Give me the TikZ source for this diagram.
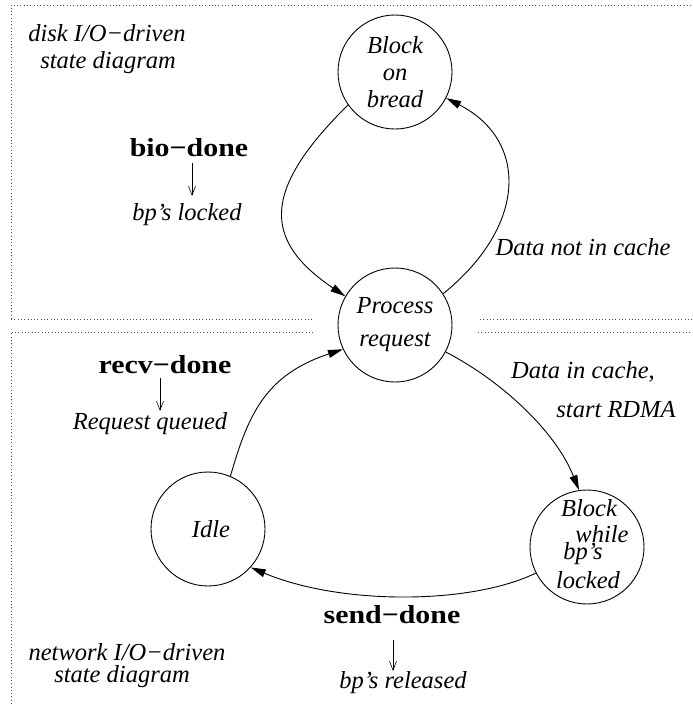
\documentclass[tikz,border=0pt]{standalone}
\usepackage{fontspec}
\setmainfont{Liberation Serif}
\newfontfamily\evfont{Liberation Serif Bold}[FakeStretch=1.15]
\usetikzlibrary{arrows.meta}
\begin{document}
\begin{tikzpicture}[x=1pt,y=-1pt,
  lbl/.style={font=\fontsize{24.5}{27}\selectfont\itshape, inner sep=0pt},
  ev/.style={font=\evfont\fontsize{26}{26}\selectfont, inner sep=0pt},
  state/.style={circle, draw, line width=0.9pt, minimum size=114pt, inner sep=0pt, align=center},
  edge/.style={line width=0.9pt, -{Triangle[length=15pt,width=8pt]}},
  small/.style={line width=0.6pt, -{Straight Barb[length=9pt,width=7pt]}},
  frame/.style={line width=1pt, dash pattern=on 1pt off 2.3pt, black!70}]
\useasboundingbox (0,0) rectangle (693,704);
% dotted frames
\draw[frame] (11,319) -- (11,5) -- (693,5);
\draw[frame] (11,319) -- (313,319);
\draw[frame] (480,319) -- (693,319);
\draw[frame] (11,704) -- (11,332) -- (313,332);
\draw[frame] (478,332) -- (693,332);
% states
\node[state, font=\fontsize{24.5}{27}\selectfont\itshape] (blk) at (395,72) {Block\\on\\bread};
\node[state, font=\fontsize{24.5}{33}\selectfont\itshape] (proc) at (395,325) {Process\\request};
\node[state, font=\fontsize{24.5}{27}\selectfont\itshape] (idle) at (208,529) {\hspace*{6pt}Idle};
\node[state] (bw) at (587,547) {};
\node[lbl] (bw1) at (589,508) {Block};
\node[lbl] (bw2) at (602,534) {while};
\node[lbl] (bw3) at (583,554) {bp’s};
\node[lbl] (bw4) at (588,580) {locked};
% texts
\node[lbl] (t1) at (107,33) {disk I/O−driven};
\node[lbl] (t2) at (108,63) {state diagram};
\node[lbl] (t3) at (127,652) {network I/O−driven};
\node[lbl] (t4) at (122,677) {state diagram};
\node[ev] (bio) at (189,148) {bio−done};
\node[lbl] (bioL) at (187,215) {bp’s locked};
\node[ev] (recv) at (165,365) {recv−done};
\node[lbl] (recvL) at (150,424) {Request queued};
\node[ev] (send) at (392,615) {send−done};
\node[lbl] (sendL) at (403,683) {bp’s released};
\node[lbl] (dnc) at (583,247) {Data not in cache};
\node[lbl] (dic1) at (583,372) {Data in cache,};
\node[lbl] (dic2) at (616,410) {start RDMA};
% small arrows
\coordinate (a1s) at (192,163); \coordinate (a1e) at (192,196);
\coordinate (a2s) at (160,378); \coordinate (a2e) at (160,411);
\coordinate (a3s) at (393,640); \coordinate (a3e) at (393,671);
\draw[small] (a1s) -- (a1e);
\draw[small] (a2s) -- (a2e);
\draw[small] (a3s) -- (a3e);
% edges
\draw[edge] (blk.215) .. controls (262,190) and (262,240) .. (proc.150);
\draw[edge] (proc.33) .. controls (528,225) and (528,140) .. (blk.333);
\draw[edge] (proc.332) .. controls (500,380) and (555,430) .. (bw.98);
\draw[edge] (bw.207) .. controls (470,605) and (340,605) .. (idle.318);
\draw[edge] (idle.67) .. controls (248,415) and (265,375) .. (proc.205);
\end{tikzpicture}
\end{document}
